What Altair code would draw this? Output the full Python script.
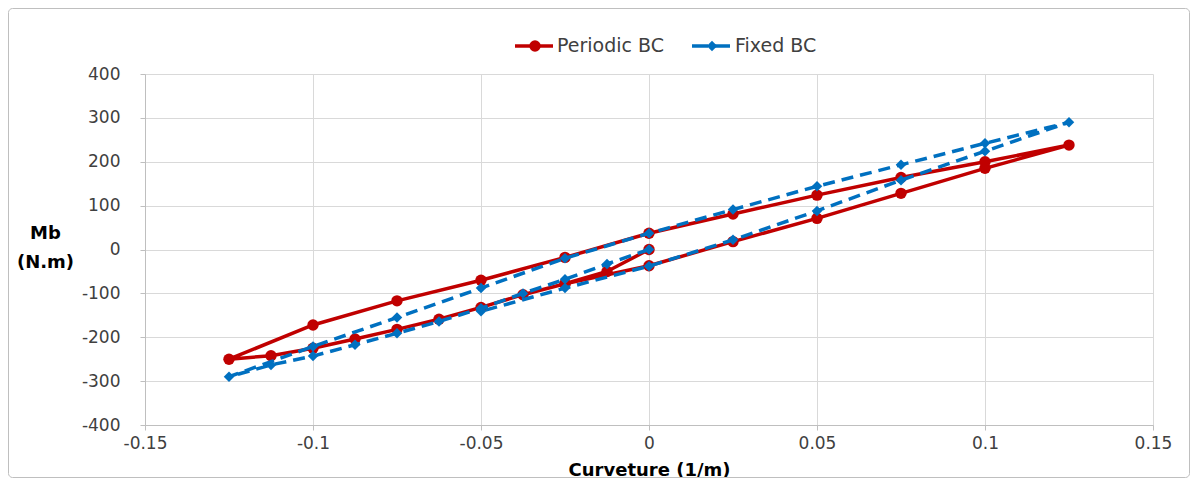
import altair as alt
import pandas as pd

series_names = ["Periodic BC", "Fixed BC"]

periodic_x = [0, -0.0125, -0.025, -0.0375, -0.05, -0.0625, -0.075, -0.0875, -0.1, -0.1125, -0.125,
              -0.1, -0.075, -0.05, -0.025, 0, 0.025, 0.05, 0.075, 0.1, 0.125,
              0.1, 0.075, 0.05, 0.025, 0, -0.025]
periodic_y = [0, -50, -78, -103, -132, -159, -182, -204, -225, -242, -250,
              -172, -117, -70, -18, 37, 81, 124, 164, 200, 238,
              185, 128, 71, 18, -37, -78]

fixed_x = [0, -0.0125, -0.025, -0.0375, -0.05, -0.0625, -0.075, -0.0875, -0.1, -0.1125, -0.125,
           -0.1, -0.075, -0.05, -0.025, 0, 0.025, 0.05, 0.075, 0.1, 0.125,
           0.1, 0.075, 0.05, 0.025, 0, -0.025, -0.05]
fixed_y = [0, -33, -68, -100, -134, -164, -191, -217, -243, -263, -290,
           -221, -155, -88, -20, 37, 91, 144, 193, 242, 290,
           224, 158, 88, 22, -38, -88, -141]

x_ticks = [-0.15, -0.1, -0.05, 0, 0.05, 0.1, 0.15]
y_ticks = [-400, -300, -200, -100, 0, 100, 200, 300, 400]

x_title = "Curveture (1/m)"
y_title = ["Mb", "(N.m)"]

df_p = pd.DataFrame({"x": periodic_x, "y": periodic_y, "idx": list(range(len(periodic_x)))})
df_f = pd.DataFrame({"x": fixed_x, "y": fixed_y, "idx": list(range(len(fixed_x)))})

W, H = 1008, 351
FONT = "DejaVu Sans"
RED = "#C00000"
BLUE = "#0070C0"

xscale = alt.Scale(domain=[-0.15, 0.15], nice=False, zero=False)
yscale = alt.Scale(domain=[-400, 400], nice=False, zero=False)

xaxis = alt.Axis(values=x_ticks, labelExpr="'' + datum.value", title=x_title,
                 titleFont=FONT, titleFontSize=18, titleFontWeight="bold", titleColor="#000000",
                 titleX=W / 2, titleY=45, titleAlign="center", titleBaseline="middle",
                 labelFont=FONT, labelFontSize=17, labelColor="#404040", labelPadding=5,
                 tickSize=5, tickColor="#bfbfbf", domainColor="#bfbfbf",
                 grid=True, gridColor="#d9d9d9", labelFlush=False)
yaxis = alt.Axis(values=y_ticks, labelExpr="'' + datum.value", title=y_title,
                 titleFont=FONT, titleFontSize=18, titleFontWeight="bold", titleColor="#000000",
                 titleAngle=0, titleX=-100, titleY=H / 2 - 16, titleAlign="center", titleBaseline="middle",
                 titleLineHeight=29,
                 labelFont=FONT, labelFontSize=17, labelColor="#404040", labelPadding=20,
                 tickSize=5, tickColor="#bfbfbf", domainColor="#bfbfbf",
                 grid=True, gridColor="#d9d9d9", labelFlush=False)

X = alt.X("x:Q", scale=xscale, axis=xaxis)
Y = alt.Y("y:Q", scale=yscale, axis=yaxis)

line_p = alt.Chart(df_p).mark_line(color=RED, strokeWidth=3.5).encode(x=X, y=Y, order="idx:Q")
pts_p = alt.Chart(df_p).mark_point(shape="circle", filled=True, size=130, color=RED, opacity=1).encode(x=X, y=Y)
line_f = alt.Chart(df_f).mark_line(color=BLUE, strokeWidth=3.5, strokeDash=[12, 7]).encode(x=X, y=Y, order="idx:Q")
pts_f = alt.Chart(df_f).mark_point(shape="diamond", filled=True, size=110, color=BLUE, opacity=1).encode(x=X, y=Y)

# legend
LY = -28
leg_df_p = pd.DataFrame({"name": [series_names[0]]})
leg_df_f = pd.DataFrame({"name": [series_names[1]]})
leg_line_p = alt.Chart(leg_df_p).mark_rule(color=RED, strokeWidth=3.5).encode(
    x=alt.value(370), x2=alt.value(408), y=alt.value(LY))
leg_pt_p = alt.Chart(leg_df_p).mark_point(shape="circle", filled=True, size=130, color=RED, opacity=1).encode(
    x=alt.value(390), y=alt.value(LY))
leg_txt_p = alt.Chart(leg_df_p).mark_text(align="left", baseline="middle", font=FONT, fontSize=19, color="#404040").encode(
    x=alt.value(412), y=alt.value(LY), text="name:N")
leg_line_f = alt.Chart(leg_df_f).mark_rule(color=BLUE, strokeWidth=3.5, strokeDash=[16, 6]).encode(
    x=alt.value(547), x2=alt.value(586), y=alt.value(LY))
leg_pt_f = alt.Chart(leg_df_f).mark_point(shape="diamond", filled=True, size=110, color=BLUE, opacity=1).encode(
    x=alt.value(567), y=alt.value(LY))
leg_txt_f = alt.Chart(leg_df_f).mark_text(align="left", baseline="middle", font=FONT, fontSize=19, color="#404040").encode(
    x=alt.value(590), y=alt.value(LY), text="name:N")

border = alt.Chart(pd.DataFrame({"a": [0]})).mark_rect(
    fill="transparent", stroke="#bfbfbf", strokeWidth=1, cornerRadius=4).encode(
    x=alt.value(-136.5), x2=alt.value(1044.5), y=alt.value(-65.5), y2=alt.value(403.5))

chart = alt.layer(
    line_p, pts_p, line_f, pts_f,
    leg_line_p, leg_pt_p, leg_txt_p, leg_line_f, leg_pt_f, leg_txt_f,
    border,
).properties(
    width=W, height=H,
    padding={"left": 137, "top": 66, "right": 37, "bottom": 53},
    autosize=alt.AutoSizeParams(type="none"),
).configure_view(stroke="transparent")

chart.save("out.html", embed_options={"renderer": "svg", "actions": False})
